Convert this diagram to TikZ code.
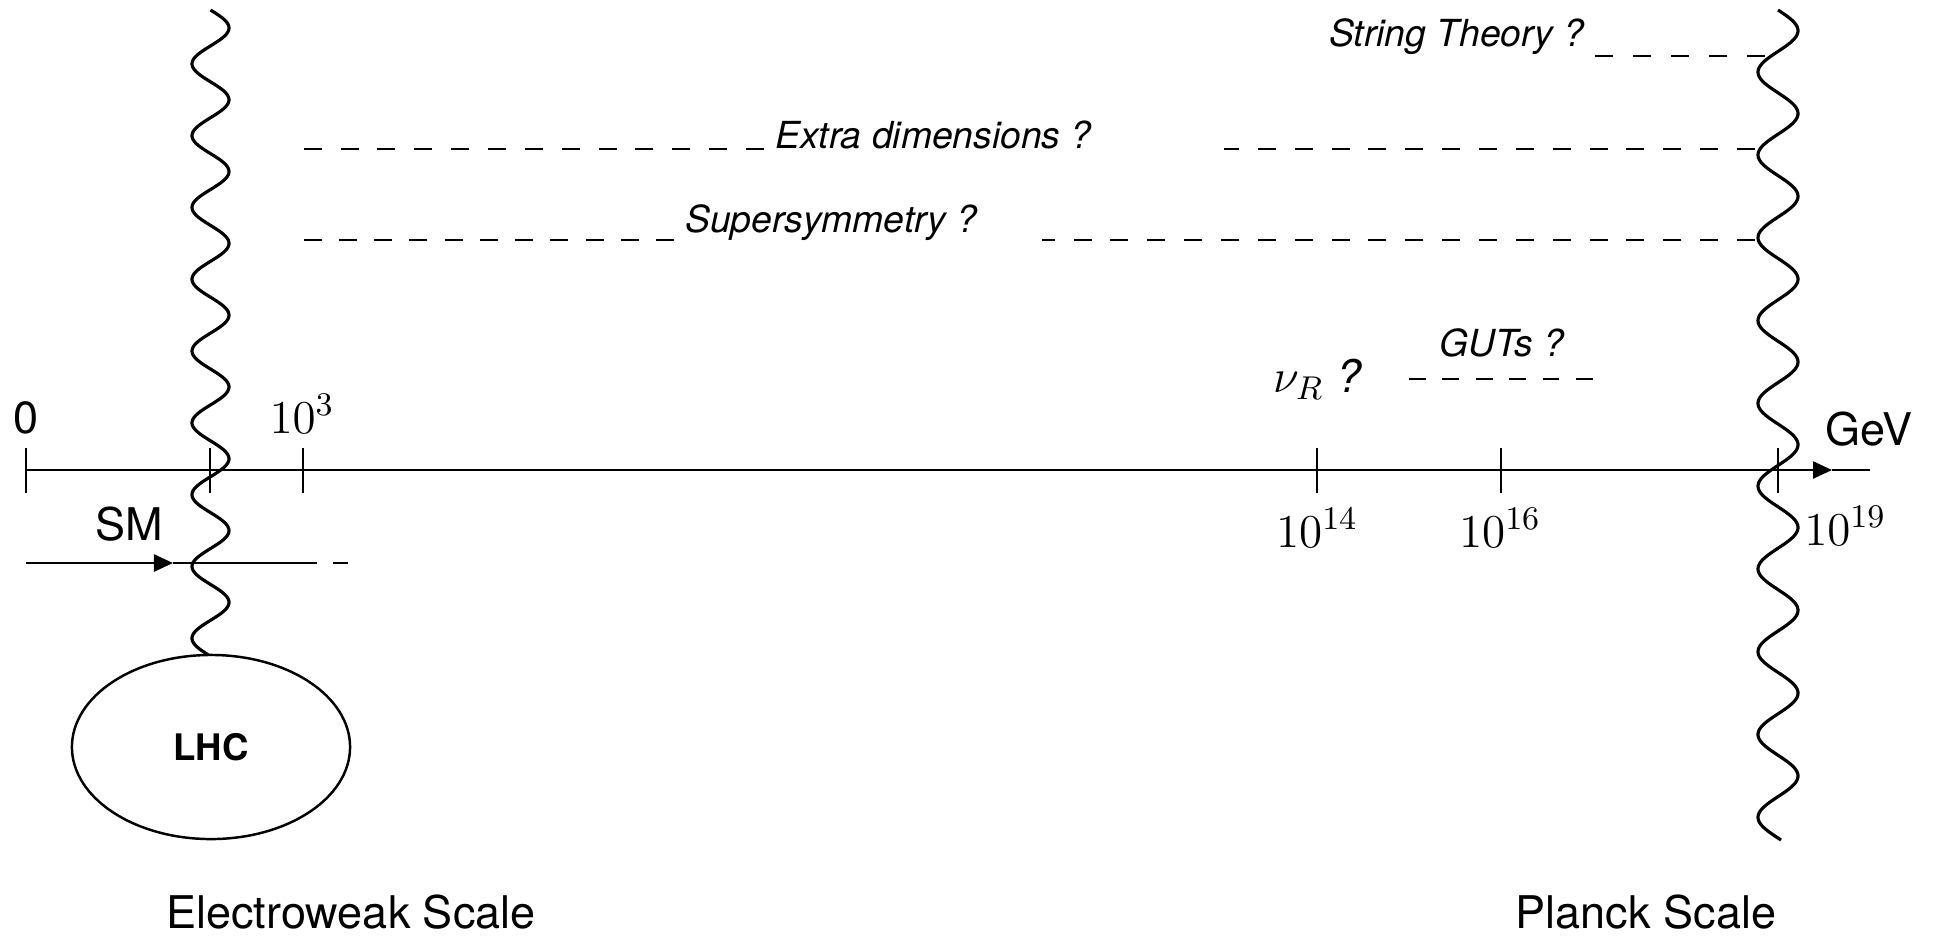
\RequirePackage{fix-cm}
\documentclass[tikz,border=0pt]{standalone}
\usepackage{fontspec}
\setmainfont{TeX Gyre Heros}
\usetikzlibrary{arrows.meta,shapes.geometric}
\begin{document}
\begin{tikzpicture}[x=0.01cm,y=-0.01cm,
  line width=0.7pt,
  lbl/.style={inner sep=0pt, font=\fontsize{12.8}{15}\selectfont},
  itl/.style={inner sep=0pt, font=\fontsize{10.6}{12.6}\selectfont\itshape},
  mth/.style={inner sep=0pt, font=\fontsize{13.4}{15.6}\selectfont},
  wave/.style={line width=0.9pt},
  dsh/.style={dash pattern=on 5.12pt off 5.36pt},
  ldsh/.style={dash pattern=on 5.12pt off 4.9pt},
  sdsh/.style={dash pattern=on 5.1pt off 5.7pt},
  gdsh/.style={dash pattern=on 4.75pt off 4.75pt},
  tip/.style={-{Triangle[length=0.19cm,width=0.17cm]}}]
\useasboundingbox (0,0) rectangle (1933,935);

% axis
\coordinate (a0) at (26,470);
\coordinate (atip) at (1832,470);
\coordinate (aend) at (1870,470);
\draw[tip] (a0) -- (atip);
\draw (atip) -- (aend);
\foreach \x/\n in {26/t0,210/t1,303/t3,1317/t14,1501/t16,1778/t19}{
  \coordinate (\n a) at (\x,448);
  \coordinate (\n b) at (\x,493);
  \draw (\n a) -- (\n b);
}

% SM line
\coordinate (s0) at (26,563);
\coordinate (stip) at (173,563);
\coordinate (s1) at (317,563);
\coordinate (s2) at (333,563);
\coordinate (s3) at (348,563);
\draw[tip] (s0) -- (stip);
\draw (stip) -- (s1);
\draw (s2) -- (s3);

% LHC ellipse
\node[draw, ellipse, minimum width=2.78cm, minimum height=1.84cm, inner sep=0pt,
  font=\fontsize{10.4}{12}\selectfont\bfseries] (lhc) at (211,747) {LHC};

% wavy lines
\draw[wave] plot[domain=10:655, samples=400, variable=\t]
  ({210.5+18.5*sin(5.0139*(\t-10))}, \t);
\draw[wave] plot[domain=10:840, samples=500, variable=\t]
  ({1778+20*sin(4.3478*(\t-10))}, \t);

% labels on axis
\node[lbl, anchor=base] (zero) at (26,433) {0};
\node[mth, anchor=base] (e3) at (302,433) {$10^3$};
\node[mth, anchor=base] (e14) at (1317,547) {$10^{14}$};
\node[mth, anchor=base] (e16) at (1500,547) {$10^{16}$};
\node[mth, anchor=base west] (e19) at (1803,545) {$10^{19}$};
\node[lbl, anchor=base] (gev) at (1869,445) {GeV};
\node[lbl, anchor=base] (sm) at (129,540) {SM};

% String theory
\node[itl, anchor=base west] (st) at (1328,46) {String Theory ?};
\coordinate (st1) at (1593,56);
\coordinate (st2) at (1765,56);
\draw[sdsh] (st2) -- (st1);

% Extra dimensions
\node[itl, anchor=base west] (ed) at (774,148) {Extra dimensions ?};
\coordinate (ed1) at (304,149);
\coordinate (ed2) at (764,149);
\coordinate (ed3) at (1224,149);
\coordinate (ed4) at (1755,149);
\draw[dsh] (ed2) -- (ed1);
\draw[dsh] (ed4) -- (ed3);

% Supersymmetry
\node[itl, anchor=base west] (ss) at (684,232) {Supersymmetry ?};
\coordinate (ss1) at (304,240);
\coordinate (ss2) at (674,240);
\coordinate (ss3) at (1042,240);
\coordinate (ss4) at (1755,240);
\draw[ldsh] (ss2) -- (ss1);
\draw[dsh] (ss4) -- (ss3);

% GUTs
\node[itl, anchor=base] (gut) at (1502,356) {GUTs ?};
\coordinate (g1) at (1409,379);
\coordinate (g2) at (1594,379);
\draw[gdsh] (g1) -- (g2);

% nu_R
\node[mth, anchor=base west] (nur) at (1272,392) {$\nu_R$ {\fontsize{12.8}{15}\selectfont\itshape ?}};

% scales
\node[lbl] (ew) at (351,912) {Electroweak Scale};
\node[lbl] (pl) at (1646,912) {Planck Scale};
\end{tikzpicture}
\end{document}
